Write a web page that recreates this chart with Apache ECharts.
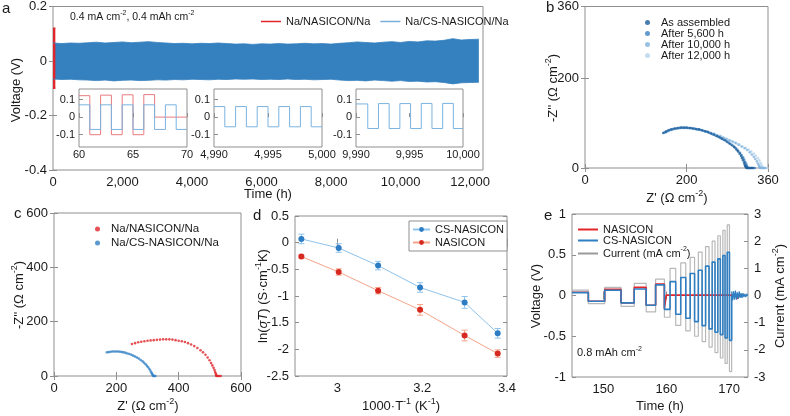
<!DOCTYPE html>
<html>
<head>
<meta charset="utf-8">
<script src="https://cdn.jsdelivr.net/npm/echarts@6/dist/echarts.min.js"></script>
<style>html,body{margin:0;background:#fff}#chart{width:790px;height:416px}</style>
</head>
<body>
<div id="chart"></div>
<script>
// ---------- panel a : long term cycling (envelope of the dense curve) ----------
const aEnvT = [0,250,500,750,1000,1250,1500,1750,2000,2250,2500,2750,3000,3250,3500,3750,4000,4250,4500,4750,5000,5250,5500,5750,6000,6250,6500,6750,7000,7250,7500,7750,8000,8250,8500,8750,9000,9250,9500,9750,10000,10250,10500,10750,11000,11250,11500,11750,12000,12250]
const aEnvHi = [0.066,0.064,0.066,0.065,0.067,0.069,0.066,0.068,0.070,0.067,0.069,0.071,0.068,0.066,0.064,0.065,0.063,0.065,0.064,0.066,0.064,0.062,0.063,0.061,0.063,0.062,0.064,0.062,0.063,0.065,0.063,0.064,0.062,0.065,0.067,0.070,0.068,0.066,0.069,0.071,0.068,0.072,0.070,0.074,0.073,0.076,0.082,0.077,0.079,0.080]
const aEnvLo = [-0.066,-0.068,-0.067,-0.069,-0.070,-0.072,-0.070,-0.073,-0.071,-0.070,-0.072,-0.071,-0.069,-0.070,-0.068,-0.069,-0.067,-0.068,-0.069,-0.067,-0.068,-0.066,-0.067,-0.066,-0.068,-0.067,-0.068,-0.066,-0.068,-0.067,-0.069,-0.068,-0.067,-0.070,-0.072,-0.071,-0.073,-0.070,-0.072,-0.074,-0.072,-0.075,-0.074,-0.077,-0.076,-0.079,-0.084,-0.080,-0.079,-0.078]
const aRedT = [0, 67]
const aRedHi = [0.12, 0.12]
const aRedLo = [-0.10, -0.10]
const aTicks = [0,2000,4000,6000,8000,10000,12000]

// insets (step values, each holds until the next time)
const in1T = [60,61,62,63,64,65,66,67,68,69,70]
const in1Na = [0.122,-0.10,0.125,-0.10,0.127,-0.10,0.128,0.0,0.0,0.0,0.0]
const in1Cs = [0.07,-0.07,0.07,-0.07,0.07,-0.07,0.07,-0.07,0.07,-0.07,-0.07]
const in2T = [4990,4991,4992,4993,4994,4995,4996,4997,4998,4999,5000]
const in2Cs = [0.06,-0.055,0.06,-0.055,0.06,-0.055,0.06,-0.055,0.06,-0.055,-0.055]
const in3T = [9990,9991.1,9992.1,9993.1,9994.1,9995.1,9996.1,9997.1,9998.1,9999.1,10000]
const in3Cs = [0.075,-0.065,0.077,-0.065,0.077,-0.065,0.078,-0.065,0.078,-0.065,-0.065]

// ---------- panel b : EIS of CS-NASICON cell during cycling ----------
const bAs = [[154,78],[159,81],[164,84],[170,86],[176,88],[182,89],[188,90],[194,90],[200,90],[206,89],[212,88],[218,87],[224,86],[230,84],[236,82],[242,80],[248,77],[254,74],[260,71],[265,68],[270,65],[275,62],[280,58],[285,54],[290,50],[294,46],[298,41],[301,37],[304,32],[307,27],[309,22],[311,17],[313,12],[314,8],[315,5],[316,3],[317,1],[318,0],[321,0],[324,0],[327,0],[330,0]]
const b5600 = [[156,79],[161,82],[167,85],[173,87],[179,88],[185,89],[191,90],[197,90],[203,89],[209,89],[215,88],[221,86],[227,85],[233,83],[239,81],[245,78],[251,75],[257,72],[263,69],[268,66],[273,63],[278,60],[283,56],[288,52],[293,48],[297,44],[301,39],[305,34],[308,29],[311,24],[313,19],[315,14],[317,10],[318,6],[319,3],[320,1],[321,0],[324,0],[327,0],[331,0],[334,0]]
const b10000 = [[158,79],[164,82],[170,85],[176,87],[182,88],[188,89],[194,89],[200,89],[206,89],[212,88],[218,87],[224,86],[230,84],[236,82],[242,80],[248,78],[254,76],[260,73],[266,71],[272,68],[278,65],[284,62],[290,59],[296,56],[302,52],[308,48],[314,44],[319,40],[324,35],[328,30],[332,25],[335,20],[338,15],[340,10],[342,6],[343,3],[344,1],[345,0],[348,0],[351,0],[354,0]]
const b12000 = [[160,80],[166,83],[172,85],[178,87],[184,88],[190,89],[196,89],[202,89],[208,88],[214,87],[220,86],[226,85],[232,83],[238,81],[244,79],[250,77],[256,75],[262,72],[268,70],[274,67],[280,64],[286,61],[292,58],[298,55],[304,52],[310,48],[316,45],[322,41],[327,37],[332,32],[336,27],[340,22],[343,17],[345,12],[347,8],[348,4],[349,2],[350,0],[353,0],[356,0],[359,0]]

// ---------- panel c : EIS of both cells ----------
const cNa = [[250,118],[260,121],[270,124],[280,126],[290,128],[300,130],[310,131],[320,132],[330,133],[340,134],[350,135],[360,135],[370,135],[380,134],[390,132],[400,130],[410,128],[420,125],[430,121],[440,116],[450,110],[460,103],[470,95],[478,87],[486,78],[493,68],[499,58],[504,48],[508,39],[512,30],[515,22],[517,15],[519,9],[520,4],[521,1],[522,0],[526,0],[530,0],[535,0]]
const cCs = [[170,87],[176,88],[182,89],[188,90],[194,90],[200,90],[206,90],[212,89],[218,88],[224,87],[230,85],[236,83],[242,81],[248,78],[254,75],[260,72],[266,68],[272,64],[278,59],[284,54],[289,49],[294,43],[298,38],[302,32],[306,26],[309,20],[312,14],[314,9],[316,5],[318,2],[319,0],[322,0],[325,0]]

// ---------- panel d : Arrhenius ----------
const dX = [2.915, 3.003, 3.096, 3.195, 3.300, 3.378]
const dCs = [0.07, -0.10, -0.43, -0.84, -1.12, -1.70]
const dCsErr = [0.09, 0.08, 0.08, 0.09, 0.11, 0.09]
const dNa = [-0.26, -0.55, -0.90, -1.26, -1.74, -2.08]
const dNaErr = [0.03, 0.06, 0.06, 0.10, 0.10, 0.07]

// ---------- panel e : critical current density ----------
const eT = [145,147.6,150.2,152.8,154.9,156.8,158.3,159.7,160.6,161.5,162.3,163.1,163.8,164.5,165.1,165.7,166.25,166.8,167.3,167.75,168.2,168.6,169.0,169.35,169.7,170.05,170.4]
const eCur = [0.2,-0.3,0.3,-0.4,0.45,-0.6,0.6,-0.8,1.0,-1.1,1.2,-1.3,1.4,-1.5,1.6,-1.7,1.8,-1.9,2.0,-2.1,2.2,-2.3,2.4,-2.5,2.6,-2.8,0]
const eCs = [0.035,-0.07,0.065,-0.09,0.08,-0.12,0.13,-0.17,0.17,-0.23,0.22,-0.28,0.27,-0.32,0.31,-0.37,0.36,-0.41,0.41,-0.45,0.45,-0.48,0.49,-0.52,0.53,-0.55,0]
const eCsTailT = [170.4,170.55,170.7,170.85,171.0,171.15,171.3,171.45,171.6,171.75,171.9,172.05,172.2,172.35,172.5,172.65,172.8,172.95]
const eCsTailV = [0.05,-0.06,0.05,-0.05,0.06,-0.05,0.04,-0.04,0.05,-0.03,0.03,-0.03,0.03,-0.02,0.02,-0.02,0.02,0]
const eNaT = [145,147.6,150.2,152.8,154.9,156.8,158.3,159.7,160.0,170.5,171.3,171.6,171.9]
const eNaV = [0.04,-0.07,0.075,-0.09,0.10,-0.12,0.14,-0.16,0.005,0.0,-0.04,0.0,0.0]

const FONT = 'Liberation Sans, Arial, Helvetica, sans-serif'
const INK = '#1a1a1a'
const FRAME = '#8f8f8f'
const BAND = '#3580bf'

let pairs = (xs, ys) => xs.map((x, i) => [x, ys[i]])
let comma = v => Number(v).toLocaleString('en-US')

function grid(left, top, width, height, extra){
  return Object.assign({left, top, width, height, show: true, borderColor: FRAME, borderWidth: 1, backgroundColor: 'transparent'}, extra || {})
}
function axis(gridIndex, min, max, ticks, o){
  o = o || {}
  let a = {
    type: 'value', gridIndex, min, max,
    axisLine: {show: false},
    splitLine: {show: false},
    axisTick: {show: true, inside: true, length: 4, customValues: ticks, lineStyle: {color: FRAME}},
    axisLabel: {customValues: ticks, color: INK, fontSize: o.fontSize || 13, fontFamily: FONT, margin: o.margin || 6}
  }
  if (o.formatter) a.axisLabel.formatter = o.formatter
  if (o.position) a.position = o.position
  if (o.z) a.z = o.z
  if (o.mirror) a.axisLabel.show = false
  return a
}
// MATLAB style box: tick marks repeated on the top / right edge
let mirrorX = (g, min, max, ticks) => axis(g, min, max, ticks, {position: 'top', mirror: true})
let mirrorY = (g, min, max, ticks) => axis(g, min, max, ticks, {position: 'right', mirror: true})

function rich(size){
  return {
    t: {fontSize: size, fontFamily: FONT, fill: INK, color: INK, lineHeight: size + 4},
    i: {fontSize: size, fontFamily: FONT, fill: INK, color: INK, fontStyle: 'italic', lineHeight: size + 4},
    s: {fontSize: Math.round(size * 0.66), fontFamily: FONT, fill: INK, color: INK, lineHeight: Math.round(size * 0.66), verticalAlign: 'top'}
  }
}
function label(text, x, y, o){
  o = o || {}
  let size = o.size || 13
  return {
    type: 'text', x, y, rotation: o.rot || 0, z: 100,
    style: {text, fill: INK, font: size + 'px ' + FONT, align: o.align || 'center', verticalAlign: 'middle', rich: rich(size)}
  }
}
function scatter(name, data, color, xi){
  return {type: 'scatter', name, xAxisIndex: xi, yAxisIndex: xi, data, symbol: 'circle', symbolSize: 2.6, itemStyle: {color}}
}
function stepLine(name, xs, ys, color, xi, yi, w, z){
  return {type: 'line', name, xAxisIndex: xi, yAxisIndex: yi, data: pairs(xs, ys), step: 'end', symbol: 'none',
    lineStyle: {color, width: w || 1}, itemStyle: {color}, z: z || 2}
}
function errBars(xs, ys, es, color){
  return {
    type: 'custom', xAxisIndex: 6, yAxisIndex: 6, z: 2,
    data: xs.map((x, i) => [x, ys[i] - es[i], ys[i] + es[i]]),
    renderItem(params, api){
      let lo = api.coord([api.value(0), api.value(1)]), hi = api.coord([api.value(0), api.value(2)])
      let st = {stroke: color, lineWidth: 1}
      return {type: 'group', children: [
        {type: 'line', shape: {x1: lo[0], y1: lo[1], x2: hi[0], y2: hi[1]}, style: st},
        {type: 'line', shape: {x1: lo[0] - 3, y1: lo[1], x2: lo[0] + 3, y2: lo[1]}, style: st},
        {type: 'line', shape: {x1: hi[0] - 3, y1: hi[1], x2: hi[0] + 3, y2: hi[1]}, style: st}
      ]}
    }
  }
}

let option = {
  animation: false,
  backgroundColor: '#fff',
  textStyle: {fontFamily: FONT},
  grid: [
    grid(53, 6, 430, 164),                                   // a
    grid(79, 89, 108, 58, {backgroundColor: '#fff', z: 3}),  // inset 1
    grid(214, 89, 108, 58, {backgroundColor: '#fff', z: 3}), // inset 2
    grid(356, 89, 107, 58, {backgroundColor: '#fff', z: 3}), // inset 3
    grid(585, 5, 183, 163),                                  // b
    grid(54, 213, 187, 163),                                 // c
    grid(295, 216, 212, 160),                                // d
    grid(572, 214, 176, 163)                                 // e
  ],
  xAxis: [
    axis(0, 0, 12370, aTicks, {formatter: comma}),
    axis(1, 60, 70, [60, 65, 70], {fontSize: 11, z: 5, margin: 2}),
    axis(2, 4990, 5000, [4990, 4995, 5000], {fontSize: 11, z: 5, margin: 2, formatter: comma}),
    axis(3, 9990, 10000, [9990, 9995, 10000], {fontSize: 11, z: 5, margin: 2, formatter: comma}),
    axis(4, 0, 360, [0, 200, 360]),
    axis(5, 0, 600, [0, 200, 400, 600]),
    axis(6, 2.9, 3.4, [3, 3.2, 3.4]),
    axis(7, 145, 173, [150, 160, 170]),
    mirrorX(0, 0, 12370, aTicks),
    mirrorX(4, 0, 360, [0, 200, 360]),
    mirrorX(5, 0, 600, [0, 200, 400, 600]),
    mirrorX(6, 2.9, 3.4, [3, 3.2, 3.4]),
    mirrorX(7, 145, 173, [150, 160, 170])
  ],
  yAxis: [
    axis(0, -0.4, 0.2, [-0.4, -0.2, 0, 0.2]),
    axis(1, -0.17, 0.16, [-0.1, 0, 0.1], {fontSize: 11, z: 5, margin: 4}),
    axis(2, -0.17, 0.16, [-0.1, 0, 0.1], {fontSize: 11, z: 5, margin: 4}),
    axis(3, -0.17, 0.16, [-0.1, 0, 0.1], {fontSize: 11, z: 5, margin: 4}),
    axis(4, 0, 360, [0, 200, 360]),
    axis(5, 0, 600, [0, 200, 400, 600]),
    axis(6, -2.5, 0.5, [-2.5, -2, -1.5, -1, -0.5, 0, 0.5]),
    axis(7, -1, 1, [-1, -0.5, 0, 0.5, 1]),
    axis(7, -3, 3, [-3, -2, -1, 0, 1, 2, 3], {position: 'right'}),
    mirrorY(0, -0.4, 0.2, [-0.4, -0.2, 0, 0.2]),
    mirrorY(4, 0, 360, [0, 200, 360]),
    mirrorY(5, 0, 600, [0, 200, 400, 600]),
    mirrorY(6, -2.5, 0.5, [-2.5, -2, -1.5, -1, -0.5, 0, 0.5])
  ],
  legend: [
    {left: 256, top: 11, selectedMode: false, icon: 'rect', itemWidth: 20, itemHeight: 1.5, itemGap: 10,
      textStyle: {fontSize: 11, color: INK},
      data: [{name: 'Na/NASICON/Na'}, {name: 'Na/CS-NASICON/Na', itemStyle: {color: '#78aedd'}}]},
    {left: 640, top: 12, orient: 'vertical', selectedMode: false, icon: 'circle', itemWidth: 5, itemHeight: 5, itemGap: 0,
      textStyle: {fontSize: 11, color: INK, padding: [0, 0, 0, 6]},
      data: ['As assembled', 'After 5,600 h', 'After 10,000 h', 'After 12,000 h']},
    {left: 90, top: 218, orient: 'vertical', selectedMode: false, icon: 'circle', itemWidth: 5, itemHeight: 5, itemGap: 2,
      textStyle: {fontSize: 11.5, color: INK, padding: [0, 0, 0, 6]},
      data: ['Na/NASICON/Na ', 'Na/CS-NASICON/Na ']},
    {left: 409, top: 221, orient: 'vertical', selectedMode: false, itemWidth: 17, itemHeight: 6, itemGap: 2,
      borderColor: FRAME, borderWidth: 1, padding: [3, 3, 3, 3], backgroundColor: '#fff',
      textStyle: {fontSize: 11, color: INK},
      data: ['CS-NASICON', 'NASICON']},
    {left: 573, top: 219, orient: 'vertical', selectedMode: false, icon: 'rect', itemWidth: 20, itemHeight: 2, itemGap: 0,
      textStyle: {fontSize: 11, color: INK, rich: rich(11)},
      formatter: n => n == 'Current' ? '{t|Current (mA cm}{s|-2}{t|)}' : '{t|' + n + '}',
      data: ['NASICON ', 'CS-NASICON ', {name: 'Current', itemStyle: {color: '#9a9a9a'}}]}
  ],
  graphic: [
    label('a', 2, 9, {size: 15, align: 'left'}),
    label('b', 546, 8, {size: 15, align: 'left'}),
    label('c', 14, 214, {size: 15, align: 'left'}),
    label('d', 253, 216, {size: 15, align: 'left'}),
    label('e', 544, 216, {size: 15, align: 'left'}),
    label('{t|Voltage (V)}', 16, 90, {rot: Math.PI / 2}),
    label('{t|Time (h)}', 268, 194),
    label('{t|0.4 mA cm}{s|-2}{t|, 0.4 mAh cm}{s|-2}', 70, 17, {size: 10.5, align: 'left'}),
    label("{t|-Z'' (Ω cm}{s|-2}{t|)}", 553, 88, {rot: Math.PI / 2}),
    label("{t|Z' (Ω cm}{s|-2}{t|)}", 677, 198),
    label("{t|-Z'' (Ω cm}{s|-2}{t|)}", 19, 295, {rot: Math.PI / 2}),
    label("{t|Z' (Ω cm}{s|-2}{t|)}", 148, 406),
    label('{t|ln(}{i|σT}{t|) (S·cm}{s|-1}{t|K)}', 263, 296, {rot: Math.PI / 2}),
    label('{t|1000·T}{s|-1}{t| (K}{s|-1}{t|)}', 401, 406),
    label('{t|Voltage (V)}', 536, 296, {rot: Math.PI / 2}),
    label('{t|Time (h)}', 660, 406),
    label('{t|Current (mA cm}{s|-2}{t|)}', 780, 296, {rot: Math.PI / 2}),
    label('{t|0.8 mAh cm}{s|-2}', 577, 353, {size: 11, align: 'left'})
  ],
  series: [
    // a
    {type: 'line', name: 'Na/CS-NASICON/Na', xAxisIndex: 0, yAxisIndex: 0, data: pairs(aEnvT, aEnvHi), symbol: 'none',
      lineStyle: {color: BAND, width: 0.8}, itemStyle: {color: BAND}, areaStyle: {color: BAND, opacity: 1, origin: 0}},
    {type: 'line', name: 'Na/CS-NASICON/Na', xAxisIndex: 0, yAxisIndex: 0, data: pairs(aEnvT, aEnvLo), symbol: 'none',
      lineStyle: {color: BAND, width: 0.8}, itemStyle: {color: BAND}, areaStyle: {color: BAND, opacity: 1, origin: 0}},
    {type: 'line', name: 'Na/NASICON/Na', xAxisIndex: 0, yAxisIndex: 0, data: pairs(aRedT, aRedHi), symbol: 'none',
      lineStyle: {color: '#e0262b', width: 1.5}, itemStyle: {color: '#e0262b'}, areaStyle: {color: '#e0262b', opacity: 1, origin: 0}, z: 3},
    {type: 'line', name: 'Na/NASICON/Na', xAxisIndex: 0, yAxisIndex: 0, data: pairs(aRedT, aRedLo), symbol: 'none',
      lineStyle: {color: '#e0262b', width: 1.5}, itemStyle: {color: '#e0262b'}, areaStyle: {color: '#e0262b', opacity: 1, origin: 0}, z: 3},
    stepLine(null, in1T, in1Na, '#e87c80', 1, 1, 1, 4),
    stepLine(null, in1T, in1Cs, '#7ab3e0', 1, 1, 1, 4),
    stepLine(null, in2T, in2Cs, '#7ab3e0', 2, 2, 1, 4),
    stepLine(null, in3T, in3Cs, '#7ab3e0', 3, 3, 1, 4),
    // b
    scatter('After 12,000 h', b12000, '#b8d4ec', 4),
    scatter('After 10,000 h', b10000, '#80b1dc', 4),
    scatter('After 5,600 h', b5600, '#3d7fc0', 4),
    scatter('As assembled', bAs, '#1c5d99', 4),
    // c
    scatter('Na/NASICON/Na ', cNa, '#e0262b', 5),
    scatter('Na/CS-NASICON/Na ', cCs, '#2f80c4', 5),
    // d
    errBars(dX, dCs, dCsErr, '#8ec3ec'),
    errBars(dX, dNa, dNaErr, '#f3a58a'),
    {type: 'line', name: 'CS-NASICON', xAxisIndex: 6, yAxisIndex: 6, data: pairs(dX, dCs), symbol: 'circle', symbolSize: 6,
      lineStyle: {color: '#8ec3ec', width: 1}, itemStyle: {color: '#2d7cc4'}, z: 3},
    {type: 'line', name: 'NASICON', xAxisIndex: 6, yAxisIndex: 6, data: pairs(dX, dNa), symbol: 'circle', symbolSize: 6,
      lineStyle: {color: '#f3a58a', width: 1}, itemStyle: {color: '#d62a20'}, z: 3},
    // e
    stepLine('Current', eT, eCur, '#b8b8b8', 7, 8, 1.2, 2),
    stepLine('NASICON ', eNaT, eNaV, '#e3262b', 7, 7, 1.6, 3),
    stepLine('CS-NASICON ', eT, eCs, '#2f7ec1', 7, 7, 1.6, 4),
    {type: 'line', xAxisIndex: 7, yAxisIndex: 7, data: pairs(eCsTailT, eCsTailV), symbol: 'none',
      lineStyle: {color: '#2f7ec1', width: 1.2}, z: 4}
  ]
}

let myChart = echarts.init(document.getElementById('chart'))
myChart.setOption(option)
window.onresize = myChart.resize
</script>
</body>
</html>
